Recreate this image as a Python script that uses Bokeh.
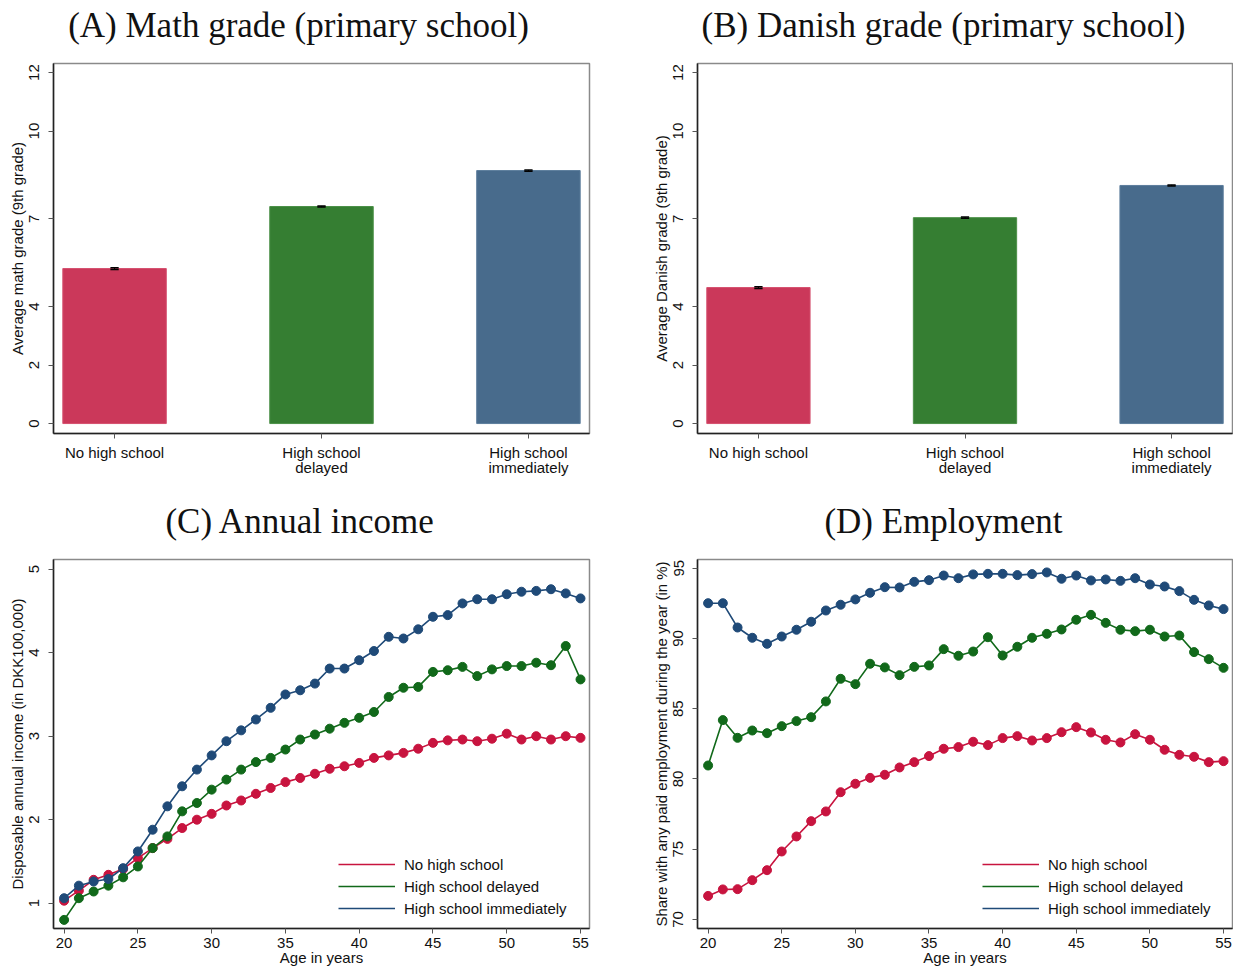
from bokeh.plotting import figure
from bokeh.layouts import column, row
from bokeh.models import (Range1d, FixedTicker, Legend, LegendItem, ColumnDataSource)
from bokeh.core.properties import value
from bokeh.embed import file_html
from bokeh.resources import INLINE

# ---------------- data ----------------
groups = ["No high school", "High school delayed", "High school immediately"]
group_ticklabels = ["No high school", "High school\ndelayed", "High school\nimmediately"]
grade_ticks = [0, 2, 4, 7, 10, 12]

math_grade = [5.30, 7.42, 8.65]
math_ci = [0.03, 0.02, 0.02]
danish_grade = [4.65, 7.04, 8.14]
danish_ci = [0.03, 0.02, 0.02]

ages = list(range(20, 56))

income_no = [1.03, 1.15, 1.28, 1.34, 1.41, 1.54, 1.66, 1.77, 1.90, 2.00, 2.07, 2.17, 2.23,
             2.31, 2.38, 2.45, 2.50, 2.55, 2.61, 2.64, 2.68, 2.74, 2.77, 2.80, 2.85, 2.92,
             2.95, 2.96, 2.94, 2.97, 3.03, 2.96, 3.00, 2.96, 3.00, 2.98]
income_delayed = [0.80, 1.06, 1.14, 1.21, 1.31, 1.44, 1.66, 1.80, 2.10, 2.20, 2.36, 2.48,
                  2.60, 2.69, 2.74, 2.84, 2.96, 3.02, 3.09, 3.16, 3.22, 3.29, 3.47, 3.58,
                  3.59, 3.77, 3.79, 3.83, 3.72, 3.80, 3.84, 3.84, 3.88, 3.85, 4.08, 3.68]
income_imm = [1.06, 1.21, 1.26, 1.29, 1.42, 1.62, 1.88, 2.16, 2.40, 2.60, 2.77, 2.94, 3.07,
              3.20, 3.34, 3.50, 3.55, 3.63, 3.81, 3.81, 3.91, 4.02, 4.19, 4.17, 4.28, 4.43,
              4.45, 4.59, 4.64, 4.64, 4.70, 4.73, 4.74, 4.76, 4.71, 4.65]
income_ticks = [1, 2, 3, 4, 5]

emp_no = [71.68, 72.14, 72.16, 72.80, 73.51, 74.84, 75.91, 77.00, 77.69, 79.06, 79.66, 80.08,
          80.30, 80.82, 81.20, 81.63, 82.15, 82.27, 82.65, 82.41, 82.91, 83.05, 82.74, 82.91,
          83.33, 83.69, 83.31, 82.79, 82.60, 83.19, 82.79, 82.08, 81.72, 81.58, 81.20, 81.27]
emp_delayed = [80.96, 84.19, 82.93, 83.45, 83.26, 83.76, 84.12, 84.40, 85.52, 87.13, 86.75,
               88.20, 87.94, 87.39, 87.98, 88.08, 89.24, 88.77, 89.07, 90.09, 88.79, 89.41,
               90.05, 90.33, 90.64, 91.33, 91.68, 91.11, 90.62, 90.52, 90.62, 90.14, 90.21,
               89.03, 88.53, 87.91]
emp_imm = [92.51, 92.51, 90.78, 90.05, 89.62, 90.14, 90.62, 91.19, 91.99, 92.40, 92.78, 93.25,
           93.65, 93.63, 94.03, 94.15, 94.48, 94.29, 94.56, 94.60, 94.60, 94.51, 94.58, 94.70,
           94.25, 94.48, 94.13, 94.20, 94.10, 94.29, 93.84, 93.70, 93.37, 92.75, 92.35, 92.09]
emp_ticks = [70, 75, 80, 85, 90, 95]
age_ticks = [20, 25, 30, 35, 40, 45, 50, 55]

titles = ["(A) Math grade (primary school)", "(B) Danish grade (primary school)",
          "(C) Annual income", "(D) Employment"]

# ---------------- styles ----------------
BAR_FILL = ["#CB385A", "#357E32", "#486B8C"]
BAR_LINE = ["#D5506F", "#4C9148", "#5C7D9C"]
LINE_COL = ["#C8143F", "#11691A", "#1F4A78"]
SANS = "Liberation Sans"
SERIF = "Liberation Serif"
W1, W2 = 648, 585
T1_H, T2_H = 52, 66


def title_fig(text, width, height, cx, cy_from_top):
    t = figure(width=width, height=height, output_backend="svg", toolbar_location=None,
               x_range=Range1d(0, width), y_range=Range1d(0, height),
               x_axis_type=None, y_axis_type=None, min_border=0)
    t.outline_line_color = None
    t.xgrid.visible = False
    t.ygrid.visible = False
    t.text(x=[cx], y=[height - cy_from_top], text=[text], text_align="center",
           text_baseline="middle", text_font=value(SERIF), text_font_size="35px",
           text_color="#111111")
    return t


def style_axes(p):
    p.xgrid.visible = False
    p.ygrid.visible = False
    p.outline_line_color = "#8a8a8a"
    p.outline_line_width = 1.5
    for ax in (p.xaxis[0], p.yaxis[0]):
        ax.axis_line_color = "#222222"
        ax.axis_line_width = 1.5
        ax.major_tick_line_color = "#555555"
        ax.major_tick_out = 5
        ax.major_tick_in = 0
        ax.minor_tick_out = 0
        ax.minor_tick_in = 0
        ax.major_label_text_font = SANS
        ax.major_label_text_font_size = "15px"
        ax.major_label_text_color = "#111111"
        ax.major_label_text_line_height = 0.92
        ax.axis_label_text_font = SANS
        ax.axis_label_text_font_size = "15px"
        ax.axis_label_text_font_style = "normal"
        ax.axis_label_text_color = "#111111"
    p.yaxis[0].major_label_orientation = "vertical"
    p.yaxis[0].major_label_standoff = 9
    p.yaxis[0].axis_label_standoff = 1


def bar_panel(values, ci, ylabel, width, bl, br):
    p = figure(width=width, height=488 - T1_H, output_backend="svg", toolbar_location=None,
               x_range=Range1d(-0.295, 2.295), y_range=Range1d(-0.34, 12.31),
               min_border_left=bl, min_border_right=br, min_border_top=63 - T1_H,
               min_border_bottom=55)
    xs = [0, 1, 2]
    src = ColumnDataSource(dict(x=xs, top=values, fill=BAR_FILL, line=BAR_LINE))
    p.vbar(x="x", top="top", width=0.5, bottom=0, fill_color="fill", line_color="line",
           line_width=1, source=src)
    lo = [v - c for v, c in zip(values, ci)]
    hi = [v + c for v, c in zip(values, ci)]
    p.segment(x0=[x - 0.02 for x in xs], x1=[x + 0.02 for x in xs], y0=hi, y1=hi,
              line_color="black", line_width=1.5)
    p.segment(x0=[x - 0.02 for x in xs], x1=[x + 0.02 for x in xs], y0=lo, y1=lo,
              line_color="black", line_width=1.5)
    p.segment(x0=xs, x1=xs, y0=lo, y1=hi, line_color="black", line_width=1)
    style_axes(p)
    p.xaxis.ticker = FixedTicker(ticks=xs)
    p.xaxis.major_label_overrides = {i: lab for i, lab in enumerate(group_ticklabels)}
    p.xaxis.major_label_standoff = 5
    p.yaxis.ticker = FixedTicker(ticks=grade_ticks)
    p.yaxis.axis_label = ylabel
    return p


def line_panel(series, yticks, yrange, ylabel, width, bl, br):
    p = figure(width=width, height=481 - T2_H, output_backend="svg", toolbar_location=None,
               x_range=Range1d(19.28, 55.61), y_range=Range1d(*yrange),
               min_border_left=bl, min_border_right=br, min_border_top=71 - T2_H,
               min_border_bottom=41)
    items = []
    for vals, col, name in zip(series, LINE_COL, groups):
        r = p.line(ages, vals, line_color=col, line_width=1.6)
        p.scatter(ages, vals, size=9, fill_color=col, line_color=col)
        items.append(LegendItem(label=name, renderers=[r]))
    style_axes(p)
    p.xaxis.ticker = FixedTicker(ticks=age_ticks)
    p.xaxis.major_label_standoff = 4
    p.xaxis.axis_label = "Age in years"
    p.xaxis.axis_label_standoff = -2
    p.yaxis.ticker = FixedTicker(ticks=yticks)
    p.yaxis.axis_label = ylabel
    leg = Legend(items=items, location=(280, 5), glyph_width=57, glyph_height=20,
                 label_height=20, label_standoff=9, spacing=2, padding=5, margin=0,
                 label_text_font=SANS, label_text_font_size="15px",
                 label_text_color="#111111",
                 background_fill_alpha=0, border_line_alpha=0)
    p.add_layout(leg)
    return p


tA = title_fig(titles[0], W1, T1_H, 298, 25)
tB = title_fig(titles[1], W2, T1_H, 943 - W1, 25)
pA = bar_panel(math_grade, math_ci, "Average math grade (9th grade)", W1, 53, W1 - 589)
pB = bar_panel(danish_grade, danish_ci, "Average Danish grade (9th grade)", W2, 697 - W1, 1)
tC = title_fig(titles[2], W1, T2_H, 300, 33)
tD = title_fig(titles[3], W2, T2_H, 943 - W1, 33)
pC = line_panel([income_no, income_delayed, income_imm], income_ticks, (0.697, 5.116),
                "Disposable annual income (in DKK100,000)", W1, 53, W1 - 589)
pD = line_panel([emp_no, emp_delayed, emp_imm], emp_ticks, (69.36, 95.62),
                "Share with any paid employment during the year (in %)", W2, 697 - W1, 1)

layout = column(row(tA, tB), row(pA, pB), row(tC, tD), row(pC, pD))
open("out.html", "w").write(file_html(layout, INLINE))
